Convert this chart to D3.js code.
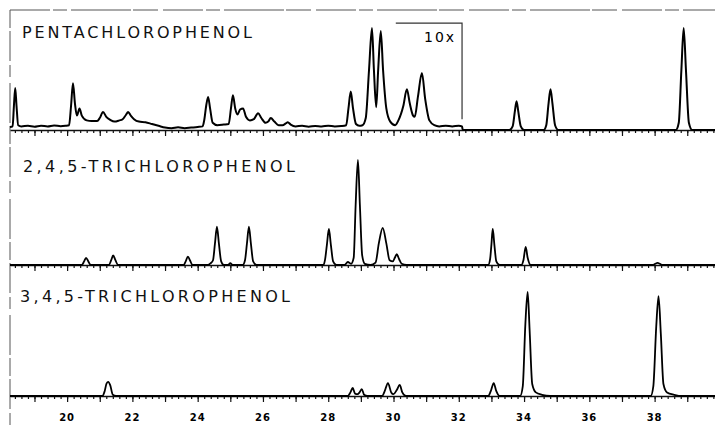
<!DOCTYPE html>
<html>
<head>
<meta charset="utf-8">
<script src="https://cdn.jsdelivr.net/npm/d3@7"></script>
<style>
  body { margin: 0; background: #fff; }
  svg { display: block; }
</style>
</head>
<body>
<svg></svg>
<script>
// chromatogram traces, [retention time (min), detector signal (arb. units)]
var pentaTrace = [
  [18.25, 2.5], [18.33, 3], [18.37, 20], [18.41, 35], [18.45, 20], [18.5, 4], [18.6, 3],
  [18.8, 3.5], [19.0, 2.8], [19.2, 3.6], [19.4, 3.0], [19.6, 3.8], [19.8, 3.2], [19.95, 3.5],
  [20.06, 4], [20.12, 20], [20.18, 39], [20.24, 22], [20.3, 12], [20.38, 18], [20.45, 12],
  [20.6, 8], [20.75, 7.5], [20.92, 7.5], [21.0, 10], [21.1, 15], [21.2, 11], [21.32, 8.5],
  [21.45, 7], [21.6, 8], [21.7, 9], [21.8, 12.5], [21.87, 15], [21.95, 12], [22.05, 9],
  [22.2, 7], [22.4, 6.5], [22.6, 5], [22.8, 3.5], [23.0, 2], [23.2, 1.5], [23.4, 2.2],
  [23.6, 1.5], [23.8, 2], [24.0, 2.5], [24.15, 3],
  [24.2, 8], [24.26, 20], [24.32, 27.5], [24.38, 18], [24.46, 6], [24.6, 4], [24.8, 4.5], [24.95, 5],
  [25.02, 18], [25.08, 29], [25.15, 18], [25.22, 13], [25.3, 17], [25.39, 18], [25.48, 11],
  [25.6, 8], [25.72, 9], [25.85, 14], [25.95, 10], [26.08, 6], [26.16, 7], [26.24, 10],
  [26.35, 7], [26.48, 4], [26.6, 4], [26.7, 5.5], [26.76, 6.5], [26.85, 4.5], [27.0, 3],
  [27.2, 3.5], [27.4, 2.8], [27.6, 3.4], [27.8, 3], [28.0, 3.6], [28.2, 3], [28.4, 3.3], [28.55, 4],
  [28.62, 18], [28.69, 32], [28.76, 18], [28.85, 5], [28.95, 3.5], [29.05, 4],
  [29.15, 10], [29.25, 50], [29.34, 85], [29.4, 50], [29.47, 19], [29.53, 50], [29.61, 82.5],
  [29.68, 50], [29.78, 18], [29.9, 7], [30.05, 4], [30.15, 8],
  [30.3, 20], [30.41, 34], [30.5, 22], [30.6, 12], [30.65, 11],
  [30.75, 28], [30.87, 47.5], [30.97, 26], [31.1, 8], [31.25, 4], [31.4, 3], [31.6, 3.5],
  [31.8, 3], [32.0, 3.5], [32.1, 3], [32.12, 0],
  [33.55, 0], [33.65, 3], [33.72, 16], [33.77, 24], [33.82, 16], [33.9, 3], [34.0, 0],
  [34.6, 0], [34.68, 4], [34.75, 22], [34.81, 34], [34.87, 22], [34.95, 4], [35.05, 0],
  [38.65, 0], [38.74, 6], [38.82, 50], [38.89, 85], [38.96, 50], [39.05, 6], [39.15, 0], [39.85, 0]
]

var tcp245Trace = [
  [18.25, 0], [20.45, 0], [20.52, 3], [20.58, 6], [20.65, 3], [20.72, 0],
  [21.28, 0], [21.35, 4], [21.41, 8], [21.48, 4], [21.56, 0],
  [23.57, 0], [23.64, 3.5], [23.7, 7], [23.77, 3.5], [23.84, 0],
  [24.3, 0], [24.4, 1.5], [24.47, 4], [24.53, 18], [24.59, 32], [24.65, 18], [24.72, 3], [24.8, 0],
  [24.93, 0], [25.0, 1.5], [25.07, 0],
  [25.38, 0], [25.45, 4], [25.51, 18], [25.57, 32], [25.63, 18], [25.7, 3], [25.8, 0],
  [27.85, 0], [27.9, 4], [27.96, 17], [28.02, 30], [28.08, 17], [28.15, 3], [28.25, 0],
  [28.5, 0], [28.6, 2.5], [28.7, 1],
  [28.78, 6], [28.84, 50], [28.91, 87.5], [28.97, 50], [29.04, 8], [29.12, 1], [29.3, 0],
  [29.45, 2], [29.55, 18], [29.67, 31], [29.78, 18], [29.88, 4], [29.98, 3],
  [30.04, 6], [30.1, 9], [30.17, 5], [30.25, 1], [30.4, 0],
  [32.9, 0], [32.96, 5], [33.0, 17], [33.04, 30], [33.09, 17], [33.15, 3], [33.25, 0],
  [33.92, 0], [33.98, 4], [34.05, 15], [34.11, 6], [34.2, 0],
  [37.95, 0], [38.02, 1], [38.09, 1.7], [38.16, 1], [38.23, 0], [39.85, 0]
]

var tcp345Trace = [
  [18.25, 0], [21.08, 0], [21.15, 4], [21.21, 10.5], [21.26, 11.7], [21.32, 9], [21.4, 1], [21.5, 0],
  [28.6, 0], [28.68, 3], [28.75, 6.7], [28.82, 2], [28.9, 1.5], [28.96, 3], [29.03, 5.8], [29.1, 1], [29.2, 0],
  [29.65, 0], [29.73, 4], [29.83, 10.8], [29.93, 3], [30.0, 1.5], [30.1, 5], [30.19, 9.2], [30.27, 3], [30.38, 0],
  [32.9, 0], [32.98, 4], [33.07, 10.8], [33.15, 4], [33.25, 0],
  [33.88, 0], [33.96, 8], [34.04, 60], [34.11, 86.7], [34.17, 55], [34.25, 10], [34.36, 3], [34.55, 1], [34.8, 0],
  [37.88, 0], [37.96, 8], [38.05, 58], [38.12, 83.3], [38.19, 52], [38.27, 10], [38.38, 3], [38.6, 1], [38.85, 0],
  [39.85, 0]
]

var panelNames = ['PENTACHLOROPHENOL', '2,4,5-TRICHLOROPHENOL', '3,4,5-TRICHLOROPHENOL']
var tickLabels = [20, 22, 24, 26, 28, 30, 32, 34, 36, 38]
var tenXRegion = [30.07, 32.1]   // range of the 10x expanded part
var tenXLabel = '10x'

var svgWidth = 715, svgHeight = 431
var baselines = [130, 265, 396]
var panelHeight = 120

var svg = d3.select('svg')
    .attr('width', svgWidth)
    .attr('height', svgHeight)

var x = d3.scaleLinear().domain([18.25, 39.85]).range([10, 715])

// y scale for each panel
var yScales = baselines.map(function(b) {
    return d3.scaleLinear().domain([0, 100]).range([b, b - panelHeight])
})

// frame: dashed top edge and left edge
svg.append('line')
    .attr('x1', 10).attr('x2', 715).attr('y1', 10).attr('y2', 10)
    .attr('stroke', '#555').attr('stroke-width', 1)
    .attr('stroke-dasharray', '40,3,14,4,60,2,25,5')
svg.append('line')
    .attr('x1', 10).attr('x2', 10).attr('y1', 10).attr('y2', 431)
    .attr('stroke', '#555').attr('stroke-width', 1)
    .attr('stroke-dasharray', '18,3,30,4,12,6,40,3')

// time axes under each trace
var minorTicks = d3.range(18.4, 39.85, 0.2)
var majorTicks = d3.range(19, 40, 1)
baselines.forEach(function(b) {
    var g = svg.append('g').attr('transform', 'translate(0,' + b + ')')
    g.call(d3.axisBottom(x).tickValues(minorTicks).tickSize(3).tickSizeOuter(0).tickFormat(''))
    g.append('g')
        .call(d3.axisBottom(x).tickValues(majorTicks).tickSize(6).tickSizeOuter(0).tickFormat(''))
        .select('.domain').remove()
    g.selectAll('line').attr('stroke', '#111').attr('stroke-width', 1.2)
    g.select('.domain').attr('stroke', '#111').attr('stroke-width', 1.6)
})

// labels on the bottom axis
svg.selectAll('text.tl')
    .data(tickLabels)
    .enter()
    .append('text')
    .attr('class', 'tl')
    .attr('x', function(d) { return x(d) })
    .attr('y', 421)
    .attr('text-anchor', 'middle')
    .style('font-family', 'DejaVu Sans')
    .style('font-weight', 'bold')
    .style('font-size', '10px')
    .style('letter-spacing', '1px')
    .text(function(d) { return d })

// traces
var traces = [pentaTrace, tcp245Trace, tcp345Trace]
traces.forEach(function(tr, i) {
    var line = d3.line()
        .x(function(d) { return x(d[0]) })
        .y(function(d) { return yScales[i](d[1]) })
        .curve(d3.curveMonotoneX)
    svg.append('path')
        .datum(tr)
        .attr('d', line)
        .attr('fill', 'none')
        .attr('stroke', '#000')
        .attr('stroke-width', i == 0 ? 2 : 1.8)
        .attr('stroke-linejoin', 'round')
})

// panel titles
var titlePos = [[22, 38, 230], [23, 172, 272], [20, 302, 270]]
panelNames.forEach(function(name, i) {
    svg.append('text')
        .attr('x', titlePos[i][0])
        .attr('y', titlePos[i][1])
        .attr('textLength', titlePos[i][2])
        .attr('lengthAdjust', 'spacing')
        .style('font-family', 'DejaVu Sans')
        .style('font-size', '16px')
        .style('fill', '#111')
        .text(name)
})

// 10x box
var y0 = yScales[0]
svg.append('path')
    .attr('d', 'M' + x(tenXRegion[0]) + ',' + y0(89) + 'H' + x(tenXRegion[1]) + 'V' + y0(9))
    .attr('fill', 'none')
    .attr('stroke', '#333')
    .attr('stroke-width', 1.2)
svg.append('text')
    .attr('x', x(tenXRegion[1]) - 8)
    .attr('y', 42)
    .attr('text-anchor', 'end')
    .attr('textLength', 30)
    .attr('lengthAdjust', 'spacing')
    .style('font-family', 'DejaVu Sans')
    .style('font-size', '14px')
    .text(tenXLabel)
</script>
</body>
</html>
